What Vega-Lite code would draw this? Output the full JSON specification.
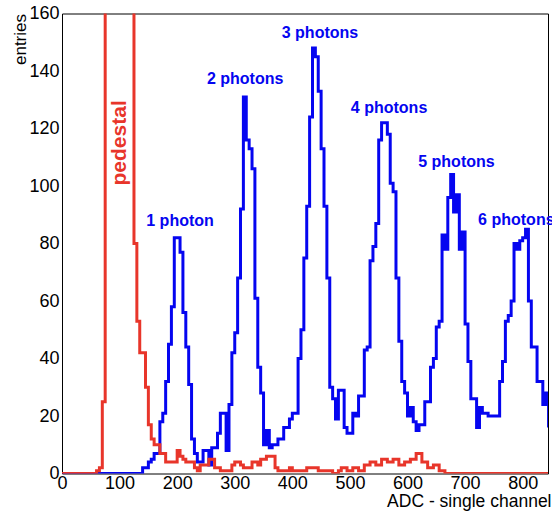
{
  "$schema": "https://vega.github.io/schema/vega-lite/v6.json",
  "width": 486,
  "height": 460,
  "autosize": {"type": "none"},
  "padding": {"left": 62, "top": 13.5, "right": 4, "bottom": 41.5},
  "background": "white",
  "config": {
    "view": {"stroke": null},
    "font": "Liberation Sans",
    "axis": {
      "grid": false,
      "domainColor": "black",
      "domainWidth": 1,
      "tickColor": "black",
      "tickWidth": 1,
      "labelColor": "black",
      "titleColor": "black",
      "labelFont": "Liberation Sans",
      "titleFont": "Liberation Sans",
      "labelFontSize": 18,
      "titleFontWeight": "normal",
      "labelOverlap": false,
      "labelFlush": false,
      "labelBound": false,
      "tickSize": 0
    }
  },
  "datasets": {
    "hist": [
      {"adc": 0, "sig": 0, "ped": 0}, {"adc": 5, "sig": 0, "ped": 0}, {"adc": 10, "sig": 0, "ped": 0}, {"adc": 15, "sig": 0, "ped": 0},
      {"adc": 20, "sig": 0, "ped": 0}, {"adc": 25, "sig": 0, "ped": 0}, {"adc": 30, "sig": 0, "ped": 0}, {"adc": 35, "sig": 0, "ped": 0},
      {"adc": 40, "sig": 0, "ped": 0}, {"adc": 45, "sig": 0, "ped": 0}, {"adc": 50, "sig": 0, "ped": 0}, {"adc": 55, "sig": 0, "ped": 0},
      {"adc": 60, "sig": 0, "ped": 1}, {"adc": 65, "sig": 0, "ped": 2}, {"adc": 70, "sig": 0, "ped": 25}, {"adc": 75, "sig": 0, "ped": 400},
      {"adc": 80, "sig": 0, "ped": 900}, {"adc": 85, "sig": 0, "ped": 1400}, {"adc": 90, "sig": 0, "ped": 1600}, {"adc": 95, "sig": 0, "ped": 1500},
      {"adc": 100, "sig": 0, "ped": 1200}, {"adc": 105, "sig": 0, "ped": 800}, {"adc": 110, "sig": 0, "ped": 500}, {"adc": 115, "sig": 0, "ped": 300},
      {"adc": 120, "sig": 0, "ped": 170}, {"adc": 125, "sig": 0, "ped": 80}, {"adc": 130, "sig": 0, "ped": 53}, {"adc": 135, "sig": 0, "ped": 42},
      {"adc": 140, "sig": 2, "ped": 42}, {"adc": 145, "sig": 2, "ped": 30}, {"adc": 150, "sig": 4, "ped": 17}, {"adc": 155, "sig": 5, "ped": 12},
      {"adc": 160, "sig": 7, "ped": 10}, {"adc": 165, "sig": 7, "ped": 10}, {"adc": 170, "sig": 18, "ped": 7}, {"adc": 175, "sig": 21, "ped": 7},
      {"adc": 180, "sig": 32, "ped": 4}, {"adc": 185, "sig": 45, "ped": 4}, {"adc": 190, "sig": 58, "ped": 4}, {"adc": 195, "sig": 82, "ped": 4},
      {"adc": 200, "sig": 82, "ped": 8}, {"adc": 205, "sig": 77, "ped": 6}, {"adc": 210, "sig": 56, "ped": 5}, {"adc": 215, "sig": 44, "ped": 4},
      {"adc": 220, "sig": 31, "ped": 4}, {"adc": 225, "sig": 12, "ped": 4}, {"adc": 230, "sig": 7, "ped": 2}, {"adc": 235, "sig": 4, "ped": 1},
      {"adc": 240, "sig": 4, "ped": 3}, {"adc": 245, "sig": 8, "ped": 3}, {"adc": 250, "sig": 8, "ped": 3}, {"adc": 255, "sig": 3, "ped": 5},
      {"adc": 260, "sig": 9, "ped": 5}, {"adc": 265, "sig": 9, "ped": 2}, {"adc": 270, "sig": 14, "ped": 2}, {"adc": 275, "sig": 21, "ped": 1},
      {"adc": 280, "sig": 21, "ped": 1}, {"adc": 285, "sig": 8, "ped": 1}, {"adc": 290, "sig": 24, "ped": 1}, {"adc": 295, "sig": 42, "ped": 3},
      {"adc": 300, "sig": 49, "ped": 4}, {"adc": 305, "sig": 68, "ped": 4}, {"adc": 310, "sig": 92, "ped": 3}, {"adc": 315, "sig": 131, "ped": 2},
      {"adc": 320, "sig": 116, "ped": 2}, {"adc": 325, "sig": 113, "ped": 2}, {"adc": 330, "sig": 106, "ped": 4}, {"adc": 335, "sig": 61, "ped": 4},
      {"adc": 340, "sig": 37, "ped": 3}, {"adc": 345, "sig": 28, "ped": 5}, {"adc": 350, "sig": 10, "ped": 5}, {"adc": 355, "sig": 15, "ped": 6},
      {"adc": 360, "sig": 9, "ped": 6}, {"adc": 365, "sig": 10, "ped": 6}, {"adc": 370, "sig": 10, "ped": 2}, {"adc": 375, "sig": 12, "ped": 1},
      {"adc": 380, "sig": 12, "ped": 1}, {"adc": 385, "sig": 16, "ped": 1}, {"adc": 390, "sig": 16, "ped": 1}, {"adc": 395, "sig": 19, "ped": 2},
      {"adc": 400, "sig": 21, "ped": 1}, {"adc": 405, "sig": 21, "ped": 1}, {"adc": 410, "sig": 40, "ped": 1}, {"adc": 415, "sig": 50, "ped": 1},
      {"adc": 420, "sig": 75, "ped": 1}, {"adc": 425, "sig": 93, "ped": 2}, {"adc": 430, "sig": 124, "ped": 2}, {"adc": 435, "sig": 148, "ped": 2},
      {"adc": 440, "sig": 145, "ped": 2}, {"adc": 445, "sig": 133, "ped": 1}, {"adc": 450, "sig": 113, "ped": 1}, {"adc": 455, "sig": 93, "ped": 1},
      {"adc": 460, "sig": 68, "ped": 1}, {"adc": 465, "sig": 30, "ped": 1}, {"adc": 470, "sig": 26, "ped": 0}, {"adc": 475, "sig": 19, "ped": 0},
      {"adc": 480, "sig": 29, "ped": 1}, {"adc": 485, "sig": 29, "ped": 2}, {"adc": 490, "sig": 16, "ped": 2}, {"adc": 495, "sig": 14, "ped": 1},
      {"adc": 500, "sig": 14, "ped": 1}, {"adc": 505, "sig": 21, "ped": 2}, {"adc": 510, "sig": 20, "ped": 2}, {"adc": 515, "sig": 27, "ped": 1},
      {"adc": 520, "sig": 27, "ped": 1}, {"adc": 525, "sig": 43, "ped": 3}, {"adc": 530, "sig": 44, "ped": 3}, {"adc": 535, "sig": 74, "ped": 4},
      {"adc": 540, "sig": 79, "ped": 4}, {"adc": 545, "sig": 87, "ped": 3}, {"adc": 550, "sig": 116, "ped": 3}, {"adc": 555, "sig": 122, "ped": 5},
      {"adc": 560, "sig": 122, "ped": 5}, {"adc": 565, "sig": 118, "ped": 4}, {"adc": 570, "sig": 101, "ped": 4}, {"adc": 575, "sig": 98, "ped": 5},
      {"adc": 580, "sig": 68, "ped": 5}, {"adc": 585, "sig": 46, "ped": 3}, {"adc": 590, "sig": 32, "ped": 3}, {"adc": 595, "sig": 28, "ped": 4},
      {"adc": 600, "sig": 20, "ped": 4}, {"adc": 605, "sig": 23, "ped": 5}, {"adc": 610, "sig": 18, "ped": 5}, {"adc": 615, "sig": 15, "ped": 7},
      {"adc": 620, "sig": 17, "ped": 7}, {"adc": 625, "sig": 17, "ped": 4}, {"adc": 630, "sig": 25, "ped": 4}, {"adc": 635, "sig": 25, "ped": 2},
      {"adc": 640, "sig": 37, "ped": 2}, {"adc": 645, "sig": 40, "ped": 3}, {"adc": 650, "sig": 51, "ped": 3}, {"adc": 655, "sig": 53, "ped": 1},
      {"adc": 660, "sig": 83, "ped": 1}, {"adc": 665, "sig": 78, "ped": 0}, {"adc": 670, "sig": 96, "ped": 0}, {"adc": 675, "sig": 104, "ped": 0},
      {"adc": 680, "sig": 91, "ped": 0}, {"adc": 685, "sig": 97, "ped": 0}, {"adc": 690, "sig": 78, "ped": 0}, {"adc": 695, "sig": 84, "ped": 0},
      {"adc": 700, "sig": 52, "ped": 0}, {"adc": 705, "sig": 39, "ped": 0}, {"adc": 710, "sig": 26, "ped": 0}, {"adc": 715, "sig": 26, "ped": 0},
      {"adc": 720, "sig": 16, "ped": 0}, {"adc": 725, "sig": 23, "ped": 0}, {"adc": 730, "sig": 21, "ped": 0}, {"adc": 735, "sig": 21, "ped": 0},
      {"adc": 740, "sig": 20, "ped": 0}, {"adc": 745, "sig": 20, "ped": 0}, {"adc": 750, "sig": 20, "ped": 0}, {"adc": 755, "sig": 20, "ped": 0},
      {"adc": 760, "sig": 32, "ped": 0}, {"adc": 765, "sig": 39, "ped": 0}, {"adc": 770, "sig": 53, "ped": 0}, {"adc": 775, "sig": 55, "ped": 0},
      {"adc": 780, "sig": 60, "ped": 0}, {"adc": 785, "sig": 80, "ped": 0}, {"adc": 790, "sig": 78, "ped": 0}, {"adc": 795, "sig": 81, "ped": 0},
      {"adc": 800, "sig": 82, "ped": 0}, {"adc": 805, "sig": 85, "ped": 0}, {"adc": 810, "sig": 60, "ped": 0}, {"adc": 815, "sig": 44, "ped": 0},
      {"adc": 820, "sig": 44, "ped": 0}, {"adc": 825, "sig": 32, "ped": 0}, {"adc": 830, "sig": 32, "ped": 0}, {"adc": 835, "sig": 24, "ped": 0},
      {"adc": 840, "sig": 28, "ped": 0}, {"adc": 845, "sig": 16, "ped": 0}
    ],
    "photons": [
      {"label": "1 photon", "adc": 205, "entries": 86},
      {"label": "2 photons", "adc": 318, "entries": 135.5},
      {"label": "3 photons", "adc": 448, "entries": 151.5},
      {"label": "4 photons", "adc": 568, "entries": 125.5},
      {"label": "5 photons", "adc": 685, "entries": 106.5},
      {"label": "6 photons", "adc": 789, "entries": 86.5}
    ],
    "pedestal": [
      {"label": "pedestal", "adc": 101, "entries": 115}
    ]
  },
  "layer": [
    {
      "data": {"name": "hist"},
      "mark": {"type": "line", "interpolate": "step-after", "color": "#0505f0", "strokeWidth": 3, "clip": true},
      "encoding": {
        "x": {
          "field": "adc", "type": "quantitative",
          "scale": {"domain": [0, 844], "nice": false, "zero": false},
          "axis": {
            "orient": "bottom",
            "values": [0,20,40,60,80,100,120,140,160,180,200,220,240,260,280,300,320,340,360,380,400,420,440,460,480,500,520,540,560,580,600,620,640,660,680,700,720,740,760,780,800,820,840],
            "labelExpr": "datum.value % 100 === 0 ? datum.label : ''",
            "labelPadding": 1,
            "encode": {"ticks": {"update": {"y2": {"signal": "datum.value % 100 === 0 ? -12 : -6"}}}},
            "title": "ADC - single channel",
            "titleFontSize": 17.5,
            "titleAlign": "right",
            "titleBaseline": "alphabetic",
            "titleX": 489,
            "titleY": 33
          }
        },
        "y": {
          "field": "sig", "type": "quantitative",
          "scale": {"domain": [0, 160], "nice": false},
          "axis": {
            "orient": "left",
            "values": [0,5,10,15,20,25,30,35,40,45,50,55,60,65,70,75,80,85,90,95,100,105,110,115,120,125,130,135,140,145,150,155,160],
            "labelExpr": "datum.value % 20 === 0 ? datum.label : ''",
            "labelPadding": 3,
            "encode": {"ticks": {"update": {"x2": {"signal": "datum.value % 20 === 0 ? 15 : 8"}}}},
            "title": "entries",
            "titleFontSize": 17,
            "titleAngle": 270,
            "titleAlign": "right",
            "titleBaseline": "alphabetic",
            "titleX": -37,
            "titleY": 0
          }
        }
      }
    },
    {
      "data": {"name": "hist"},
      "mark": {"type": "line", "interpolate": "step-after", "color": "#e8352a", "strokeWidth": 3, "clip": true},
      "encoding": {
        "x": {
          "field": "adc", "type": "quantitative",
          "scale": {"domain": [0, 844], "nice": false, "zero": false},
          "axis": {
            "orient": "top",
            "values": [0,20,40,60,80,100,120,140,160,180,200,220,240,260,280,300,320,340,360,380,400,420,440,460,480,500,520,540,560,580,600,620,640,660,680,700,720,740,760,780,800,820,840],
            "labels": false,
            "encode": {"ticks": {"update": {"y2": {"signal": "datum.value % 100 === 0 ? 12 : 6"}}}},
            "title": null
          }
        },
        "y": {
          "field": "ped", "type": "quantitative",
          "scale": {"domain": [0, 160], "nice": false},
          "axis": {
            "orient": "right",
            "values": [0,5,10,15,20,25,30,35,40,45,50,55,60,65,70,75,80,85,90,95,100,105,110,115,120,125,130,135,140,145,150,155,160],
            "labels": false,
            "encode": {"ticks": {"update": {"x2": {"signal": "datum.value % 20 === 0 ? -12 : -6"}}}},
            "title": null
          }
        }
      }
    },
    {
      "data": {"name": "photons"},
      "mark": {"type": "text", "font": "Liberation Sans", "fontWeight": "bold", "fontSize": 16, "color": "#0505f0", "align": "center", "baseline": "alphabetic"},
      "encoding": {
        "x": {"field": "adc", "type": "quantitative", "axis": null},
        "y": {"field": "entries", "type": "quantitative", "axis": null},
        "text": {"field": "label"}
      }
    },
    {
      "data": {"name": "pedestal"},
      "mark": {"type": "text", "font": "Liberation Sans", "fontWeight": "bold", "fontSize": 21, "color": "#e8352a", "align": "center", "baseline": "middle", "angle": 270},
      "encoding": {
        "x": {"field": "adc", "type": "quantitative", "axis": null},
        "y": {"field": "entries", "type": "quantitative", "axis": null},
        "text": {"field": "label"}
      }
    }
  ],
  "resolve": {"axis": {"x": "independent", "y": "independent"}}
}
